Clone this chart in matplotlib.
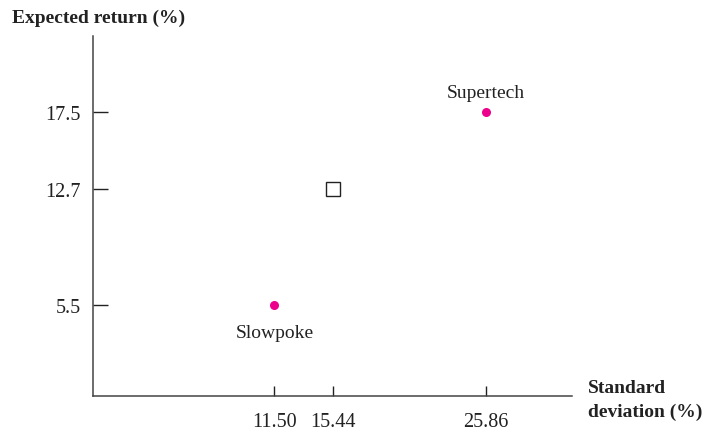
import matplotlib
matplotlib.use("Agg")
import matplotlib.pyplot as plt

# Data
names = ["Slowpoke", "Supertech"]
std_devs = [11.50, 25.86]
returns = [5.5, 17.5]
portfolio_std = [15.44]
portfolio_ret = [12.7]
x_ticks = [11.50, 15.44, 25.86]
x_tick_labels = ["11.50", "15.44", "25.86"]
y_ticks = [5.5, 12.7, 17.5]
y_tick_labels = ["5.5", "12.7", "17.5"]

plt.rcParams["font.family"] = ["Liberation Serif", "DejaVu Serif"]

W, H = 702, 431
fig = plt.figure(figsize=(W / 100, H / 100), dpi=100)
ax = fig.add_axes([93.5 / W, (H - 397.3) / H, (572 - 93.5) / W, (397.3 - 37) / H])

dot_color = "#EC008C"
ax.plot(std_devs, returns, linestyle="none", marker="o", markersize=6.5,
        color=dot_color, markeredgewidth=0)
ax.plot(portfolio_std, portfolio_ret, linestyle="none", marker="s", markersize=9.5,
        markerfacecolor="white", markeredgecolor="#222222", markeredgewidth=1.0)

offsets = {"Slowpoke": (0, -28), "Supertech": (0, 20)}
for n, x, y in zip(names, std_devs, returns):
    ax.annotate(n, (x, y), xytext=offsets[n], textcoords="offset pixels",
                ha="center", va="center", fontsize=14, color="#222222")

ax.set_xlim(-0.76, 31.67)
ax.set_ylim(-0.19, 22.24)
ax.set_xticks(x_ticks, x_tick_labels)
ax.set_yticks(y_ticks, y_tick_labels)
ax.tick_params(axis="both", direction="in", colors="#222222", labelsize=14.5, width=1.0)
ax.tick_params(axis="x", length=7.5, pad=11)
ax.tick_params(axis="y", length=10.5, pad=9)

for s in ["top", "right"]:
    ax.spines[s].set_visible(False)
for s in ["left", "bottom"]:
    ax.spines[s].set_color("#444444")
    ax.spines[s].set_linewidth(1.1)

fig.text(12 / W, 1 - 18 / H, "Expected return (%)", ha="left", va="center",
         fontsize=14, fontweight="bold", color="#222222")
fig.text(588 / W, 1 - 380 / H, "Standard\ndeviation (%)", ha="left", va="top",
         fontsize=14, fontweight="bold", color="#222222", linespacing=1.5)

fig.savefig("out.png", dpi=100)
